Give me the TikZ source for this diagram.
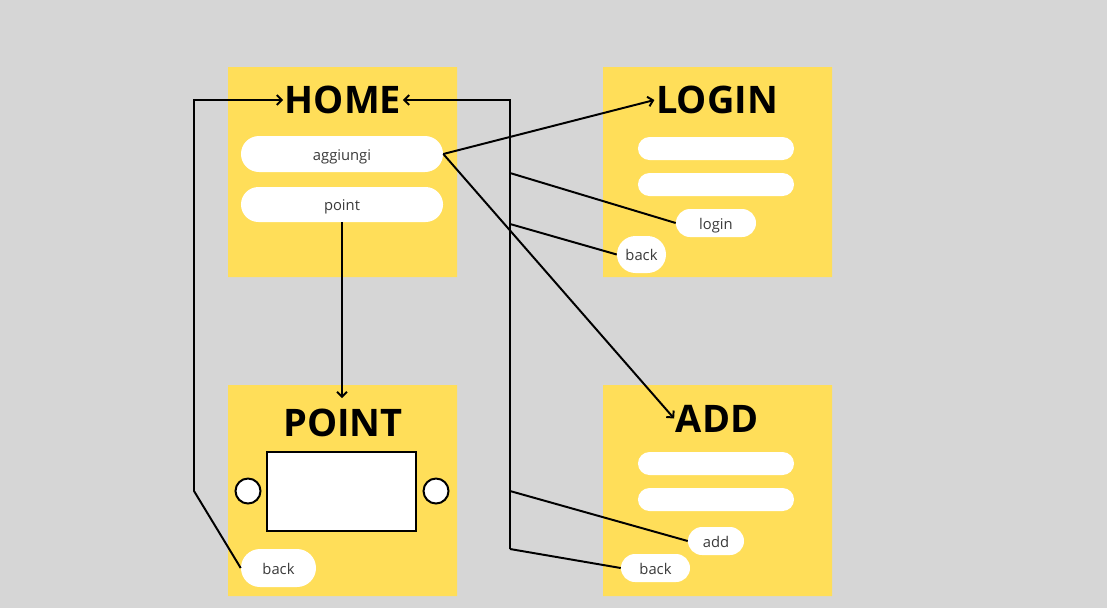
\documentclass[tikz,border=0pt]{standalone}
\usepackage{fontspec}
\setmainfont{Open Sans}
\usetikzlibrary{shapes.misc,arrows.meta}
\definecolor{bg}{HTML}{D6D6D6}
\definecolor{pad}{HTML}{FFDE59}
\definecolor{ink}{HTML}{3A3A3A}

\begin{document}
\begin{tikzpicture}[x=0.025cm,y=-0.025cm,
    title/.style={font=\fontsize{27}{27}\selectfont\bfseries,inner xsep=1pt,inner ysep=7.5pt},
    pill/.style={rounded rectangle,fill=white,inner sep=0,text=ink,text height=9pt,text depth=0pt,
      font=\fontsize{10.5}{10.5}\selectfont},
    link/.style={line width=1.4pt},
    go/.style={link,-{Straight Barb[length=3.5pt,width=7pt]}}]
        \fill[bg] (0,0) rectangle (1107,608);
        \fill[pad] (228,67) rectangle (457,277) (603,67) rectangle (832,277)
          (228,385) rectangle (457,596) (603,385) rectangle (832,596);
        % home
        \node[title] (home) at (343,100) {HOME};
        \node[pill,minimum width=5.05cm,minimum height=0.9cm] (agg) at (342,154) {aggiungi};
        \node[pill,minimum width=5.05cm,minimum height=0.875cm] (pnt) at (342,204.5) {point};
        % login
        \node[title] (log) at (717,100) {LOGIN};
        \node[pill,minimum width=3.9cm,minimum height=0.575cm] (lf1) at (716,148.5) {};
        \node[pill,minimum width=3.9cm,minimum height=0.575cm] (lf2) at (716,184.5) {};
        \node[pill,minimum width=2cm,minimum height=0.7cm] (logbtn) at (716,223) {login};
        \node[pill,minimum width=1.225cm,minimum height=0.925cm] (logback) at (641.5,254.5) {back};
        % point
        \node[title] (pt) at (343,423) {POINT};
        \node[draw,line width=1.4pt,fill=white,minimum width=3.725cm,minimum height=1.975cm,inner sep=0] (scr) at (341.5,491.5) {};
        \node[draw,circle,line width=1.4pt,fill=white,minimum size=0.625cm,inner sep=0] (cl) at (248,491) {};
        \node[draw,circle,line width=1.4pt,fill=white,minimum size=0.625cm,inner sep=0] (cr) at (436,491) {};
        \node[pill,minimum width=1.875cm,minimum height=0.95cm] (ptback) at (278.5,568) {back};
        % add
        \node[title] (add) at (717,418.5) {ADD};
        \node[pill,minimum width=3.9cm,minimum height=0.575cm] (af1) at (716,463.5) {};
        \node[pill,minimum width=3.9cm,minimum height=0.575cm] (af2) at (716,499.5) {};
        \node[pill,minimum width=1.4cm,minimum height=0.7cm] (addbtn) at (716,541) {add};
        \node[pill,minimum width=1.725cm,minimum height=0.7cm] (addback) at (655.5,568) {back};
        % links
        \coordinate (lc) at (194,491);
        \coordinate (t1) at (510,173);
        \coordinate (t2) at (510,224);
        \coordinate (t3) at (510,491);
        \coordinate (t4) at (510,549);
        \draw[go] (ptback.west) -- (lc) -- (lc |- home.west) -- (home.west);
        \draw[go] (t4) -- (t4 |- home.east) -- (home.east);
        \draw[link] (t1) -- (logbtn.west) (t2) -- (logback.west)
          (t3) -- (addbtn.west) (t4) -- (addback.west);
        \draw[go] (agg.east) -- (log.west);
        \draw[go] (agg.east) -- (add.west);
        \draw[go] (pnt.south) -- (pnt.south |- pt.north);
      \end{tikzpicture}
\end{document}
